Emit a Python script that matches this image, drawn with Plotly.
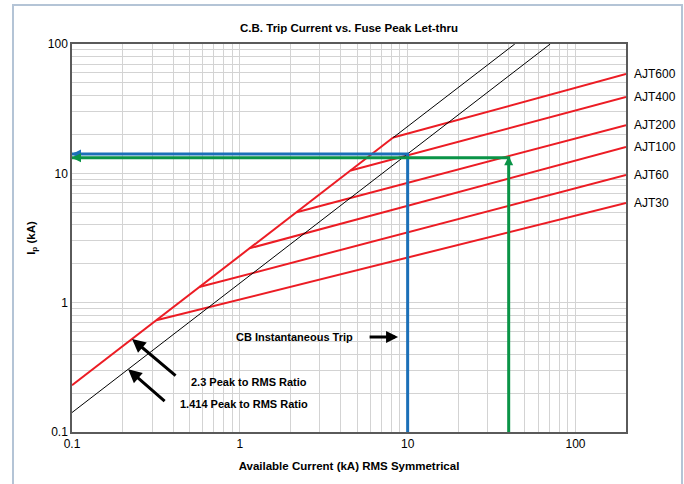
import math
import plotly.graph_objects as go

# ---- data -------------------------------------------------------------
# Fuse let-thru curves: each starts on the 2.3 peak/RMS envelope and runs to 200 kA
fuse_names = ["AJT600", "AJT400", "AJT200", "AJT100", "AJT60", "AJT30"]
fuse_knee_rms = [8.2, 4.58, 2.18, 1.14, 0.573, 0.318]      # kA RMS at the knee
fuse_knee_peak = [18.9, 10.5, 5.0, 2.63, 1.32, 0.73]       # kA peak at the knee
fuse_end_rms = [200, 200, 200, 200, 200, 200]
fuse_end_peak = [58.6, 38.9, 23.6, 16.0, 9.7, 5.9]

# 2.3 peak-to-RMS envelope (red below the AJT600 knee, thin black above it)
env_red_rms = [0.1, 8.2]
env_red_peak = [0.23, 18.9]
env_black_rms = [8.2, 43.5]
env_black_peak = [18.9, 100]

# 1.414 peak-to-RMS line
sym_rms = [0.1, 70.7]
sym_peak = [0.1414, 100]

# CB instantaneous trip example (blue) and fuse example (green)
blue_rms = [10, 10, 0.1]
blue_peak = [0.1, 14.14, 14.14]
green_rms = [40, 40, 0.1]
green_peak = [0.1, 13.2, 13.2]

x_tick_labels = {0.1: "0.1", 1: "1", 10: "10", 100: "100"}
y_tick_labels = {0.1: "0.1", 1: "1", 10: "10", 100: "100"}

# ---- styling ----------------------------------------------------------
RED = "#ec1c24"
BLUE = "#1b70b8"
GREEN = "#0a9447"
FONT = "Liberation Sans, Arial, sans-serif"

fig = go.Figure()

for name, x0, y0, x1, y1 in zip(fuse_names, fuse_knee_rms, fuse_knee_peak,
                                fuse_end_rms, fuse_end_peak):
    fig.add_trace(go.Scatter(x=[x0, x1], y=[y0, y1], mode="lines", name=name,
                             line=dict(color=RED, width=2), showlegend=False))

fig.add_trace(go.Scatter(x=env_red_rms, y=env_red_peak, mode="lines",
                         line=dict(color=RED, width=2), showlegend=False))
fig.add_trace(go.Scatter(x=env_black_rms, y=env_black_peak, mode="lines",
                         line=dict(color="black", width=1), showlegend=False))
fig.add_trace(go.Scatter(x=sym_rms, y=sym_peak, mode="lines",
                         line=dict(color="black", width=1), showlegend=False))
fig.add_trace(go.Scatter(x=blue_rms, y=blue_peak, mode="lines",
                         line=dict(color=BLUE, width=3), showlegend=False))
fig.add_trace(go.Scatter(x=green_rms, y=green_peak, mode="lines",
                         line=dict(color=GREEN, width=3), showlegend=False))


def grid_vals(lo, hi):
    vals = []
    d = lo
    while d <= hi:
        for k in range(1, 10):
            v = round(d * k, 6)
            if v <= hi:
                vals.append(v)
        d *= 10
    return vals


xv = grid_vals(0.1, 200)
yv = grid_vals(0.1, 100)
xt = [x_tick_labels.get(v, "") for v in xv]
yt = [y_tick_labels.get(v, "") for v in yv]

L = math.log10
annotations = []

# fuse labels at the right end of each curve
for name, y1 in zip(fuse_names, fuse_end_peak):
    annotations.append(dict(xref="paper", x=1.011, yref="y", y=L(y1),
                            text=name, showarrow=False, xanchor="left",
                            font=dict(size=12, color="black", family=FONT)))

# arrowheads on the blue and green lines
for col, yy in ((BLUE, blue_peak[1]), (GREEN, green_peak[1])):
    annotations.append(dict(x=L(0.1), y=L(yy), xref="x", yref="y", text="",
                            showarrow=True, ax=10, ay=0, arrowhead=2,
                            arrowsize=0.6, arrowwidth=3, arrowcolor=col))
annotations.append(dict(x=L(green_rms[1]), y=L(green_peak[1]) + 0.012,
                        xref="x", yref="y", text="", showarrow=True, ax=0,
                        ay=10, arrowhead=2, arrowsize=0.6, arrowwidth=3,
                        arrowcolor=GREEN))

# pointer arrows and notes
annotations.append(dict(x=L(0.228), y=L(0.524), xref="x", yref="y", text="",
                        showarrow=True, ax=45, ay=38, arrowhead=2,
                        arrowsize=0.9, arrowwidth=3, arrowcolor="black"))
annotations.append(dict(x=L(0.216), y=L(0.305), xref="x", yref="y", text="",
                        showarrow=True, ax=38, ay=33, arrowhead=2,
                        arrowsize=0.9, arrowwidth=3, arrowcolor="black"))
annotations.append(dict(x=L(8.77), y=L(0.542), xref="x", yref="y", text="",
                        showarrow=True, ax=-30, ay=0, arrowhead=2,
                        arrowsize=0.8, arrowwidth=3, arrowcolor="black"))


def note(px, py, txt):
    annotations.append(dict(xref="paper", yref="paper",
                            x=(px - 72) / 554, y=(432 - py) / 388, text=txt,
                            showarrow=False, xanchor="left", yanchor="middle",
                            font=dict(size=11, color="black", family=FONT)))


note(234, 337, "<b>CB Instantaneous Trip</b>")
note(189, 382, "<b>2.3 Peak to RMS Ratio</b>")
note(178, 404, "<b>1.414 Peak to RMS Ratio</b>")

fig.update_layout(
    width=684, height=484,
    margin=dict(l=72, r=58, t=44, b=52),
    paper_bgcolor="white", plot_bgcolor="white",
    font=dict(family=FONT, size=12, color="black"),
    title=dict(text="<b>C.B. Trip Current vs. Fuse Peak Let-thru</b>",
               x=(349 / 684), xanchor="center", y=1 - 28 / 484,
               yanchor="middle", font=dict(size=11.5, family=FONT)),
    xaxis=dict(type="log", range=[-1, L(200)], tickmode="array",
               tickvals=xv, ticktext=xt, showgrid=True, gridcolor="#d3d3d3",
               gridwidth=1, showline=True, mirror=True, linecolor="#5a5a5a",
               linewidth=1.5, ticks="", zeroline=False,
               tickfont=dict(size=12, family=FONT),
               title=dict(text="<b>Available Current (kA) RMS Symmetrical</b>",
                          font=dict(size=11.5, family=FONT), standoff=12)),
    yaxis=dict(type="log", range=[-1, 2], tickmode="array",
               tickvals=yv, ticktext=yt, showgrid=True, gridcolor="#d3d3d3",
               gridwidth=1, showline=True, mirror=True, linecolor="#5a5a5a",
               linewidth=1.5, ticks="", zeroline=False,
               tickfont=dict(size=12, family=FONT),
               title=dict(text="<b>I<sub>p</sub> (kA)</b>",
                          font=dict(size=11.5, family=FONT), standoff=10)),
    annotations=annotations,
    shapes=[dict(type="rect", xref="paper", yref="paper",
                 x0=(13 - 72) / 554, x1=(682 - 72) / 554,
                 y0=(432 - 500) / 388, y1=(432 - 5) / 388,
                 line=dict(color="#b4c4d6", width=2), layer="below")],
    showlegend=False,
)

fig.write_html("out.html")
